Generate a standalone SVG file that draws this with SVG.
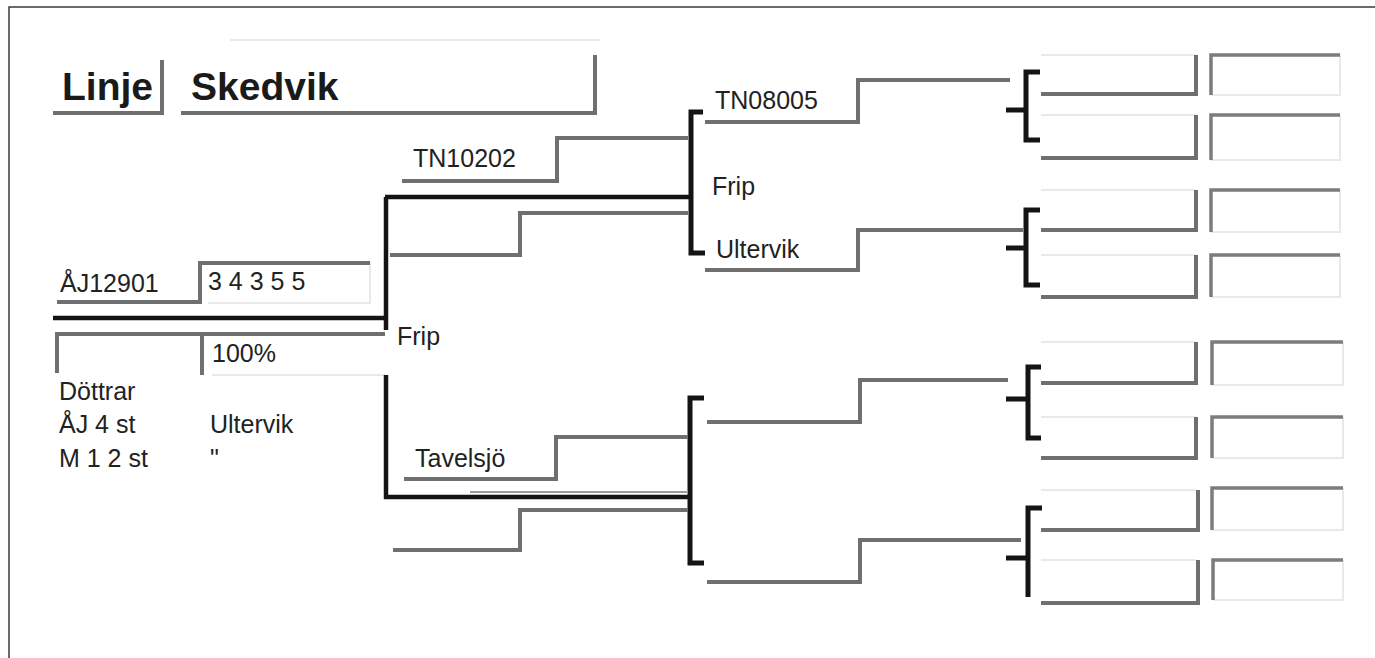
<svg xmlns="http://www.w3.org/2000/svg" width="1375" height="658" viewBox="0 0 1375 658">
<style>
.g{fill:none;stroke:#6f6f6f;stroke-width:4}
.v{fill:none;stroke:#7c7c7c;stroke-width:3.5}
.k{fill:none;stroke:#141414;stroke-width:4.5}
.b{fill:none;stroke:#141414;stroke-width:5}
.f{fill:none;stroke:#e9e9e9;stroke-width:2}
.t{font-family:"Liberation Sans",Arial,sans-serif;font-size:25px;fill:#222}
.h{font-family:"Liberation Sans",Arial,sans-serif;font-size:39px;font-weight:bold;fill:#1a1a1a}
</style>
<rect width="1375" height="658" fill="#fff"/>
<path d="M9,658 V7 H1375" stroke="#3a3a3a" stroke-width="1.5" fill="none"/>

<g id="faint">
<path class="f" d="M230,40 H600 M1211,95 H1340 V55 M1211,160 H1340 V115 M1211,232 H1340 V190 M1211,297 H1340 V255 M1212,385 H1343 V342 M1212,458 H1343 V417 M1212,530 H1343 V488 M1213,600 H1343 V560"/>
<path class="f" d="M1041,55 H1196 M1041,115 H1196 M1041,190 H1196 M1041,255 H1196 M1041,342 H1196 M1041,417 H1196 M1041,490 H1196 M1041,560 H1196"/>
<path class="f" d="M212,375 H385 M208,303 H370 V263"/>
</g>

<g id="connectors">
<path class="k" d="M53,318 H387"/>
<path class="k" d="M386,197 V330"/>
<path class="k" d="M386,375 V497 H690"/>
<path class="k" d="M385,197 H692"/>
<path class="b" d="M703,112 H691 V253 H705"/>
<path class="b" d="M704,398 H690 V563 H704"/>
<path class="b" d="M1040,72 H1026 V140 H1040 M1006,110 H1026"/>
<path class="b" d="M1040,210 H1026 V285 H1040 M1006,248 H1026"/>
<path class="b" d="M1041,367 H1028 V438 H1041 M1006,399 H1028"/>
<path class="b" d="M1042,508 H1028 V597 M1006,558 H1028"/>
<path d="M470,492 H688" stroke="#9a9a9a" stroke-width="2" fill="none"/>
</g>

<g id="linje"><text class="h" x="62" y="100">Linje</text><path class="g" d="M53,113 H162 V60"/></g>
<g id="skedvik"><text class="h" x="191" y="100">Skedvik</text><path class="g" d="M181,113 H595 V55"/></g>

<g id="aj12901"><text class="t" x="60" y="292">ÅJ12901</text><path class="g" d="M57,302 H200 V263 H370"/></g>
<g id="score"><text class="t" x="208" y="290">3 4 3 5 5</text></g>
<g id="percent"><path class="g" d="M57,373 V334 H385 M202,334 V375"/><text class="t" x="212" y="362">100%</text></g>
<g id="dottrar">
<text class="t" x="59" y="400">Döttrar</text>
<text class="t" x="59" y="433">ÅJ 4 st</text>
<text class="t" x="59" y="467">M 1 2 st</text>
<text class="t" x="210" y="433">Ultervik</text>
<text class="t" x="210" y="467">"</text>
</g>
<g id="frip-main"><text class="t" x="397" y="345">Frip</text></g>

<g id="tn10202"><text class="t" x="413" y="167">TN10202</text><path class="g" d="M402,181 H557 V138 H688"/></g>
<g id="slot-a"><path class="g" d="M390,255 H520 V213 H688"/></g>
<g id="tavelsjo"><text class="t" x="415" y="467">Tavelsjö</text><path class="g" d="M404,479 H556 V437 H688"/></g>
<g id="slot-b"><path class="g" d="M393,550 H520 V510 H688"/></g>

<g id="tn08005"><text class="t" x="715" y="109">TN08005</text><path class="g" d="M705,122 H858 V80 H1010"/></g>
<g id="frip-2"><text class="t" x="712" y="195">Frip</text></g>
<g id="ultervik-2"><text class="t" x="716" y="258">Ultervik</text><path class="g" d="M705,270 H858 V230 H1023"/></g>
<g id="slot-c"><path class="g" d="M707,422 H860 V380 H1008"/></g>
<g id="slot-d"><path class="g" d="M707,582 H860 V540 H1021"/></g>

<g id="col4">
<path class="g" d="M1041,94 H1196 V55"/>
<path class="g" d="M1041,158 H1196 V115"/>
<path class="g" d="M1041,230 H1196 V190"/>
<path class="g" d="M1041,297 H1196 V255"/>
<path class="g" d="M1041,383 H1196 V342"/>
<path class="g" d="M1041,458 H1196 V417"/>
<path class="g" d="M1041,530 H1198 V490"/>
<path class="g" d="M1041,603 H1198 V560"/>
</g>

<g id="col5">
<path class="v" d="M1211,95 V55 H1340"/>
<path class="v" d="M1211,160 V115 H1340"/>
<path class="v" d="M1211,232 V190 H1340"/>
<path class="v" d="M1211,297 V255 H1340"/>
<path class="v" d="M1212,385 V342 H1343"/>
<path class="v" d="M1212,458 V417 H1343"/>
<path class="v" d="M1212,530 V488 H1343"/>
<path class="v" d="M1213,600 V560 H1343"/>
</g>
</svg>
